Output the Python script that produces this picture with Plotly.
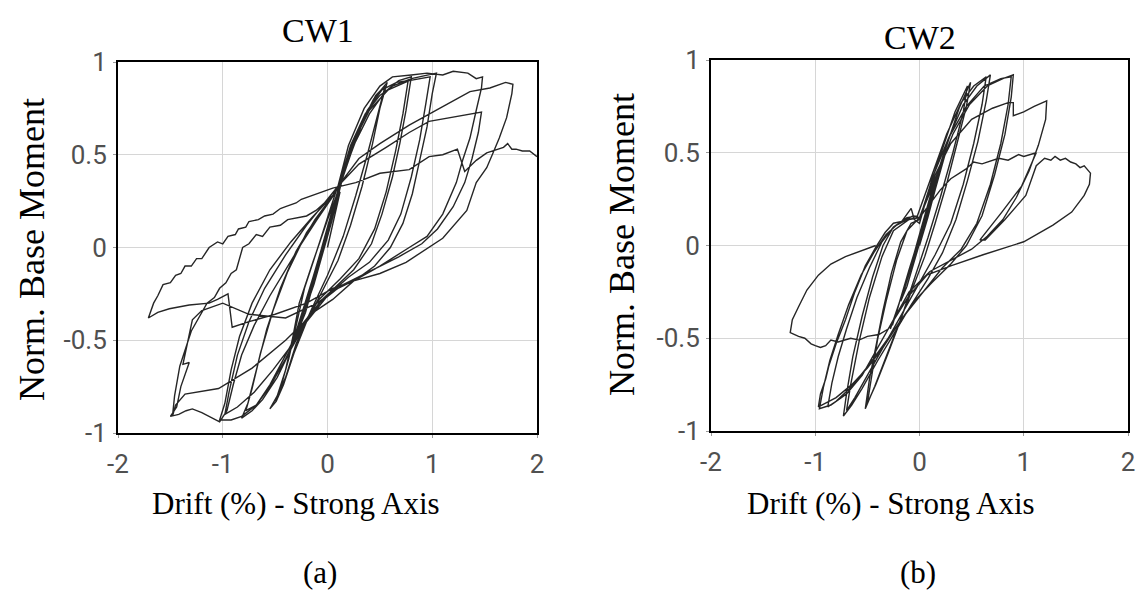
import plotly.graph_objects as go

# ---------------- CW1 (drift %, normalized base moment) ----------------
cw1_elastic = [(0.0, 0.0), (0.06, 0.15), (0.12, 0.3), (0.08, 0.23), (0.0, 0.07), (-0.1, -0.12),
               (-0.18, -0.28), (-0.13, -0.2), (-0.04, -0.02), (0.04, 0.14), (0.12, 0.32),
               (0.18, 0.45), (0.13, 0.37), (0.04, 0.17), (-0.06, -0.03), (-0.16, -0.23),
               (-0.26, -0.42), (-0.21, -0.35), (-0.1, -0.13), (0.0, 0.08), (0.1, 0.3),
               (0.21, 0.5), (0.15, 0.4), (0.05, 0.2), (-0.05, 0.0), (-0.17, -0.22),
               (-0.32, -0.49), (-0.25, -0.4), (-0.14, -0.17), (-0.03, 0.05), (0.08, 0.27),
               (0.2, 0.49), (0.14, 0.38), (0.03, 0.16), (-0.08, -0.05), (-0.2, -0.28),
               (-0.3, -0.47), (-0.23, -0.36), (-0.12, -0.14), (0.0, 0.1)]
cw1_c2 = [(0.08, 0.25), (0.2, 0.48), (0.32, 0.66), (0.44, 0.8), (0.57, 0.89), (0.5, 0.75),
          (0.43, 0.56), (0.33, 0.33), (0.22, 0.12), (0.1, -0.07), (-0.06, -0.25), (-0.2, -0.4),
          (-0.32, -0.57), (-0.42, -0.74), (-0.49, -0.83), (-0.55, -0.87), (-0.48, -0.8),
          (-0.4, -0.66), (-0.33, -0.48), (-0.27, -0.3), (-0.14, -0.08), (0.0, 0.15),
          (0.1, 0.3), (0.22, 0.5), (0.34, 0.68), (0.46, 0.82), (0.55, 0.87), (0.48, 0.72),
          (0.38, 0.5), (0.27, 0.28), (0.15, 0.06), (0.0, -0.15), (-0.15, -0.33),
          (-0.3, -0.52), (-0.4, -0.7), (-0.5, -0.83), (-0.44, -0.74), (-0.37, -0.6),
          (-0.3, -0.42), (-0.22, -0.22), (-0.08, 0.02), (0.08, 0.3)]
cw1_c3 = [(0.25, 0.55), (0.4, 0.72), (0.55, 0.84), (0.68, 0.9), (0.8, 0.92), (0.75, 0.74),
          (0.69, 0.56), (0.62, 0.38), (0.52, 0.18), (0.42, 0.02), (0.25, -0.12), (0.1, -0.2),
          (-0.05, -0.28), (-0.2, -0.4), (-0.35, -0.55), (-0.48, -0.7), (-0.62, -0.82),
          (-0.72, -0.88), (-0.82, -0.92), (-0.76, -0.84), (-0.68, -0.66), (-0.58, -0.44),
          (-0.45, -0.22), (-0.3, -0.02), (-0.12, 0.15), (0.05, 0.28), (0.12, 0.35),
          (0.24, 0.56), (0.38, 0.74), (0.52, 0.85), (0.66, 0.89), (0.77, 0.9), (0.72, 0.72),
          (0.65, 0.52), (0.56, 0.3), (0.45, 0.1), (0.3, -0.06), (0.12, -0.17),
          (-0.08, -0.28), (-0.25, -0.43), (-0.4, -0.6), (-0.55, -0.75), (-0.68, -0.85),
          (-0.78, -0.88), (-0.72, -0.76), (-0.64, -0.57), (-0.52, -0.34), (-0.38, -0.13),
          (-0.2, 0.08), (0.0, 0.24), (0.1, 0.32)]
cw1_c4 = [(0.22, 0.55), (0.36, 0.72), (0.5, 0.82), (0.62, 0.87), (0.8, 0.91), (1.04, 0.94),
          (1.0, 0.83), (0.95, 0.65), (0.88, 0.47), (0.81, 0.29), (0.72, 0.13), (0.6, 0.0),
          (0.45, -0.1), (0.28, -0.17), (0.1, -0.22), (-0.08, -0.3), (-0.25, -0.42),
          (-0.4, -0.58), (-0.55, -0.74), (-0.68, -0.85), (-0.82, -0.91), (-0.92, -0.93),
          (-1.03, -0.93), (-0.98, -0.84), (-0.92, -0.66), (-0.84, -0.48), (-0.72, -0.3),
          (-0.55, -0.12), (-0.35, 0.03), (-0.15, 0.16), (0.05, 0.28), (0.12, 0.34),
          (0.24, 0.56), (0.4, 0.74), (0.58, 0.85), (0.78, 0.9), (0.98, 0.92), (0.94, 0.78),
          (0.88, 0.58), (0.8, 0.38), (0.7, 0.18), (0.58, 0.04), (0.4, -0.08), (0.2, -0.16),
          (0.0, -0.26), (-0.2, -0.4), (-0.36, -0.54), (-0.52, -0.66), (-0.7, -0.78),
          (-0.86, -0.86), (-0.98, -0.9), (-0.94, -0.78), (-0.86, -0.58), (-0.75, -0.4),
          (-0.6, -0.22), (-0.4, -0.04), (-0.2, 0.12), (0.0, 0.26), (0.1, 0.33)]
cw1_c5 = [(0.2, 0.55), (0.35, 0.75), (0.5, 0.87), (0.62, 0.92), (0.8, 0.93), (0.95, 0.94),
          (1.1, 0.93), (1.2, 0.95), (1.34, 0.94), (1.42, 0.91), (1.48, 0.92), (1.47, 0.86),
          (1.42, 0.74), (1.36, 0.59), (1.29, 0.47), (1.23, 0.35), (1.1, 0.18), (0.95, 0.06),
          (0.78, 0.0), (0.5, -0.1), (0.25, -0.18), (0.05, -0.28), (-0.11, -0.34),
          (-0.4, -0.5), (-0.72, -0.65), (-1.04, -0.76), (-1.36, -0.79), (-1.45, -0.85),
          (-1.48, -0.91), (-1.46, -0.8), (-1.41, -0.64), (-1.3, -0.45), (-1.15, -0.3),
          (-1.08, -0.27), (-1.03, -0.22), (-0.97, -0.19), (-0.92, -0.14), (-0.87, -0.12),
          (-0.81, 0.0), (-0.75, 0.02), (-0.68, 0.07), (-0.62, 0.06), (-0.55, 0.11),
          (-0.45, 0.12), (-0.38, 0.15), (-0.3, 0.16), (-0.2, 0.17), (-0.11, 0.2),
          (0.05, 0.28)]
cw1_c6 = [(0.1, 0.33), (0.3, 0.45), (0.56, 0.54), (0.78, 0.62), (0.97, 0.68), (1.26, 0.71),
          (1.47, 0.73), (1.44, 0.62), (1.38, 0.48), (1.31, 0.35), (1.2, 0.22), (1.05, 0.1),
          (0.9, 0.02), (0.68, -0.05), (0.4, -0.13), (0.15, -0.2), (-0.1, -0.3), (-0.4, -0.38),
          (-0.75, -0.36), (-1.0, -0.3), (-1.2, -0.34), (-1.29, -0.39), (-1.38, -0.63),
          (-1.32, -0.62), (-1.4, -0.75), (-1.44, -0.86), (-1.5, -0.91), (-1.42, -0.9),
          (-1.35, -0.88), (-1.29, -0.87), (-1.2, -0.89), (-1.1, -0.92), (-1.03, -0.94),
          (-0.96, -0.88), (-0.9, -0.74), (-0.82, -0.58), (-0.7, -0.42), (-0.55, -0.26),
          (-0.4, -0.12), (-0.25, 0.02), (-0.1, 0.15), (0.08, 0.3)]
cw1_c7 = [(0.1, 0.33), (0.3, 0.48), (0.5, 0.56), (0.78, 0.66), (1.1, 0.76), (1.36, 0.84),
          (1.55, 0.86), (1.7, 0.89), (1.77, 0.88), (1.76, 0.83), (1.71, 0.7), (1.64, 0.59),
          (1.58, 0.51), (1.52, 0.43), (1.42, 0.35), (1.33, 0.2), (1.1, 0.05), (0.97, 0.0),
          (0.75, -0.08), (0.5, -0.14), (0.25, -0.18), (0.05, -0.22), (-0.2, -0.3),
          (-0.5, -0.36), (-0.75, -0.4), (-0.91, -0.43), (-0.95, -0.25), (-1.05, -0.28),
          (-1.13, -0.3), (-1.32, -0.31), (-1.51, -0.33), (-1.62, -0.35), (-1.71, -0.38)]
cw1_final = [(-1.66, -0.3), (-1.62, -0.26), (-1.57, -0.2), (-1.5, -0.19), (-1.45, -0.15),
             (-1.4, -0.14), (-1.36, -0.1), (-1.3, -0.1), (-1.25, -0.06), (-1.2, -0.06),
             (-1.13, 0.0), (-1.05, 0.03), (-1.0, 0.02), (-0.95, 0.06), (-0.88, 0.07),
             (-0.85, 0.1), (-0.78, 0.11), (-0.75, 0.14), (-0.66, 0.15), (-0.6, 0.17),
             (-0.52, 0.18), (-0.45, 0.21), (-0.4, 0.22), (-0.3, 0.24), (-0.25, 0.26),
             (-0.1, 0.29), (0.05, 0.32), (0.27, 0.35), (0.5, 0.4), (0.78, 0.42), (0.97, 0.49),
             (1.1, 0.5), (1.24, 0.53), (1.31, 0.41), (1.42, 0.47), (1.52, 0.51), (1.62, 0.53),
             (1.68, 0.54), (1.72, 0.56), (1.76, 0.53), (1.8, 0.53), (1.86, 0.52),
             (1.93, 0.52), (2.0, 0.49)]

# ---------------- CW2 ----------------
cw2_elastic = [(0.0, 0.0), (0.08, 0.15), (0.15, 0.3), (0.1, 0.22), (0.0, 0.03), (-0.1, -0.15),
               (-0.18, -0.3), (-0.12, -0.22), (-0.02, -0.03), (0.05, 0.1), (0.15, 0.3),
               (0.26, 0.52), (0.2, 0.42), (0.08, 0.18), (-0.05, -0.05), (-0.17, -0.27),
               (-0.28, -0.45), (-0.22, -0.36), (-0.1, -0.13), (0.0, 0.05), (0.12, 0.3),
               (0.24, 0.5), (0.17, 0.38), (0.05, 0.14), (-0.07, -0.08), (-0.19, -0.3),
               (-0.26, -0.43), (-0.2, -0.32), (-0.08, -0.1), (0.02, 0.1)]
cw2_c2 = [(0.12, 0.3), (0.25, 0.52), (0.38, 0.74), (0.49, 0.88), (0.45, 0.75), (0.36, 0.55),
          (0.26, 0.33), (0.15, 0.12), (0.05, -0.06), (-0.08, -0.25), (-0.2, -0.42),
          (-0.32, -0.6), (-0.43, -0.76), (-0.52, -0.88), (-0.48, -0.72), (-0.42, -0.55),
          (-0.35, -0.35), (-0.27, -0.15), (-0.18, 0.02), (-0.08, 0.12), (0.0, 0.14),
          (0.1, 0.32), (0.22, 0.52), (0.34, 0.72), (0.46, 0.86), (0.42, 0.72), (0.32, 0.5),
          (0.2, 0.26), (0.08, 0.04), (-0.06, -0.2), (-0.18, -0.4), (-0.3, -0.58),
          (-0.42, -0.75), (-0.5, -0.85), (-0.46, -0.7), (-0.4, -0.5), (-0.32, -0.3),
          (-0.22, -0.08), (-0.12, 0.08), (0.0, 0.15)]
cw2_c3 = [(0.15, 0.35), (0.28, 0.58), (0.42, 0.76), (0.55, 0.86), (0.68, 0.92), (0.64, 0.78),
          (0.56, 0.56), (0.46, 0.35), (0.35, 0.14), (0.22, -0.04), (0.08, -0.18),
          (-0.08, -0.32), (-0.25, -0.48), (-0.4, -0.62), (-0.55, -0.77), (-0.65, -0.86),
          (-0.73, -0.92), (-0.7, -0.8), (-0.64, -0.6), (-0.55, -0.38), (-0.45, -0.17),
          (-0.35, 0.0), (-0.25, 0.1), (-0.12, 0.15), (-0.02, 0.16), (0.12, 0.38),
          (0.26, 0.6), (0.4, 0.77), (0.52, 0.86), (0.64, 0.91), (0.6, 0.76), (0.52, 0.55),
          (0.42, 0.33), (0.3, 0.12), (0.15, -0.05), (0.0, -0.2), (-0.18, -0.38),
          (-0.35, -0.55), (-0.5, -0.7), (-0.62, -0.82), (-0.7, -0.89), (-0.66, -0.75),
          (-0.58, -0.52), (-0.48, -0.28), (-0.36, -0.06), (-0.25, 0.08), (-0.1, 0.14),
          (0.0, 0.15)]
cw2_c4 = [(0.18, 0.4), (0.32, 0.6), (0.48, 0.76), (0.65, 0.86), (0.8, 0.9), (0.9, 0.92),
          (0.88, 0.8), (0.82, 0.6), (0.72, 0.38), (0.6, 0.16), (0.45, 0.0), (0.3, -0.1),
          (0.12, -0.2), (-0.05, -0.3), (-0.2, -0.42), (-0.35, -0.55), (-0.5, -0.66),
          (-0.65, -0.75), (-0.8, -0.82), (-0.97, -0.87), (-0.95, -0.8), (-0.9, -0.72),
          (-0.87, -0.65), (-0.8, -0.53), (-0.71, -0.4), (-0.62, -0.25), (-0.52, -0.11),
          (-0.42, -0.01), (-0.33, 0.07), (-0.25, 0.12), (-0.17, 0.13), (-0.08, 0.2),
          (-0.05, 0.14), (0.0, 0.12), (0.12, 0.36), (0.28, 0.58), (0.45, 0.75),
          (0.62, 0.86), (0.78, 0.9), (0.88, 0.91), (0.85, 0.76), (0.78, 0.55), (0.68, 0.33),
          (0.55, 0.12), (0.4, -0.02), (0.22, -0.12), (0.05, -0.24), (-0.12, -0.36),
          (-0.3, -0.5), (-0.48, -0.64), (-0.65, -0.76), (-0.8, -0.84), (-0.88, -0.87),
          (-0.84, -0.74), (-0.78, -0.6), (-0.7, -0.45), (-0.6, -0.28), (-0.48, -0.12),
          (-0.36, 0.02), (-0.25, 0.1), (-0.12, 0.14), (0.0, 0.15)]
cw2_c5 = [(0.15, 0.38), (0.3, 0.55), (0.5, 0.68), (0.7, 0.74), (0.85, 0.77), (0.9, 0.77),
          (0.9, 0.7), (1.0, 0.72), (1.1, 0.75), (1.22, 0.78), (1.21, 0.68), (1.14, 0.54),
          (1.05, 0.4), (0.93, 0.26), (0.8, 0.14), (0.65, 0.05), (0.5, -0.02), (0.3, -0.08),
          (0.1, -0.14), (-0.1, -0.25), (-0.25, -0.4), (-0.4, -0.55), (-0.55, -0.7),
          (-0.7, -0.8), (-0.85, -0.86), (-0.96, -0.88), (-0.92, -0.76), (-0.86, -0.62),
          (-0.78, -0.48), (-0.68, -0.32), (-0.56, -0.16), (-0.44, -0.04), (-0.32, 0.06),
          (-0.2, 0.12), (-0.06, 0.16), (0.0, 0.15)]
cw2_final = [(0.2, 0.3), (0.3, 0.36), (0.44, 0.41), (0.52, 0.45), (0.6, 0.44), (0.76, 0.47),
             (0.85, 0.46), (0.95, 0.49), (1.0, 0.48), (1.12, 0.5), (0.98, 0.32), (0.79, 0.18),
             (0.61, 0.05), (0.58, 0.03), (0.63, 0.03), (0.82, 0.14), (1.02, 0.27),
             (1.11, 0.41), (1.12, 0.43), (1.2, 0.47), (1.26, 0.46), (1.3, 0.48), (1.35, 0.46),
             (1.4, 0.47), (1.45, 0.45), (1.5, 0.44), (1.54, 0.42), (1.58, 0.43), (1.64, 0.39),
             (1.63, 0.33), (1.58, 0.27), (1.46, 0.18), (1.28, 0.11), (1.0, 0.02),
             (0.61, -0.05), (0.3, -0.11), (0.07, -0.16), (-0.1, -0.27), (-0.22, -0.38),
             (-0.3, -0.45), (-0.39, -0.48), (-0.5, -0.49), (-0.58, -0.51), (-0.66, -0.5),
             (-0.78, -0.52), (-0.85, -0.51), (-0.9, -0.54), (-0.95, -0.55), (-1.0, -0.54),
             (-1.04, -0.53), (-1.1, -0.5), (-1.16, -0.49), (-1.24, -0.47), (-1.22, -0.4),
             (-1.16, -0.33), (-1.08, -0.24), (-0.97, -0.16), (-0.85, -0.1), (-0.71, -0.06),
             (-0.56, -0.03), (-0.42, 0.0)]

cw1_paths = [cw1_elastic, cw1_c2, cw1_c3, cw1_c4, cw1_c5, cw1_c6, cw1_c7, cw1_final]
cw2_paths = [cw2_elastic, cw2_c2, cw2_c3, cw2_c4, cw2_c5, cw2_final]

x_ticks = [-2, -1, 0, 1, 2]
x_tick_text = ["-2", "-1", "0", "1", "2"]
y_ticks = [-1, -0.5, 0, 0.5, 1]
y_tick_text = ["-1", "-0.5", "0", "0.5", "1"]
panel_titles = ["CW1", "CW2"]
panel_labels = ["(a)", "(b)"]
x_title = "Drift (%) - Strong Axis"
y_title = "Norm. Base Moment"

W, H = 1137, 593
fig = go.Figure()

def flat(paths):
    xs, ys = [], []
    for p in paths:
        for a, b in p:
            xs.append(a)
            ys.append(b)
    return xs, ys

for i, paths in enumerate([cw1_paths, cw2_paths]):
    xs, ys = flat(paths)
    fig.add_trace(go.Scatter(x=xs, y=ys, mode="lines",
                             line=dict(color="#262626", width=1.4),
                             xaxis="x" if i == 0 else "x2",
                             yaxis="y" if i == 0 else "y2",
                             showlegend=False, hoverinfo="skip"))

# plot boxes in pixels -> paper fractions
boxes = [(118, 537, 62, 433), (711, 1128, 60, 431)]
tickfont = dict(family="Roboto", size=26, color="#505050")
for i, (l, r, t, b) in enumerate(boxes):
    sfx = "" if i == 0 else "2"
    common = dict(showline=True, linecolor="black", linewidth=2, mirror=True,
                  showgrid=True, gridcolor="#d6d6d6", gridwidth=1, zeroline=False,
                  ticks="outside", ticklen=3, tickcolor="#9a9a9a", tickfont=tickfont,
                  automargin=False)
    fig.layout["xaxis" + sfx] = dict(domain=[l / W, r / W], range=[-2, 2],
                                     tickvals=x_ticks, ticktext=x_tick_text,
                                     anchor="y" + sfx, ticklabelstandoff=4, **common)
    fig.layout["yaxis" + sfx] = dict(domain=[1 - b / H, 1 - t / H], range=[-1, 1],
                                     tickvals=y_ticks, ticktext=y_tick_text,
                                     anchor="x" + sfx, ticklabelstandoff=1, **common)

serif = "Liberation Serif"
title_pos = [(318, 30), (920, 37)]
xt_pos = [(296, 503), (891, 503)]
yt_pos = [(32, 250), (622, 245)]
lab_pos = [(320, 572), (918, 572)]
ann = []
for i in range(2):
    ann.append(dict(text=panel_titles[i], x=title_pos[i][0] / W, y=1 - title_pos[i][1] / H,
                    xref="paper", yref="paper", showarrow=False, xanchor="center",
                    yanchor="middle", font=dict(family=serif, size=34, color="black")))
    ann.append(dict(text=x_title, x=xt_pos[i][0] / W, y=1 - xt_pos[i][1] / H,
                    xref="paper", yref="paper", showarrow=False, xanchor="center",
                    yanchor="middle", font=dict(family=serif, size=31, color="black")))
    ann.append(dict(text=y_title, x=yt_pos[i][0] / W, y=1 - yt_pos[i][1] / H,
                    xref="paper", yref="paper", showarrow=False, xanchor="center",
                    yanchor="middle", textangle=-90,
                    font=dict(family=serif, size=36, color="black")))
    ann.append(dict(text=panel_labels[i], x=lab_pos[i][0] / W, y=1 - lab_pos[i][1] / H,
                    xref="paper", yref="paper", showarrow=False, xanchor="center",
                    yanchor="middle", font=dict(family=serif, size=31, color="black")))

fig.update_layout(width=W, height=H, margin=dict(l=0, r=0, t=0, b=0),
                  paper_bgcolor="white", plot_bgcolor="white", annotations=ann)
fig.write_html("out.html")
